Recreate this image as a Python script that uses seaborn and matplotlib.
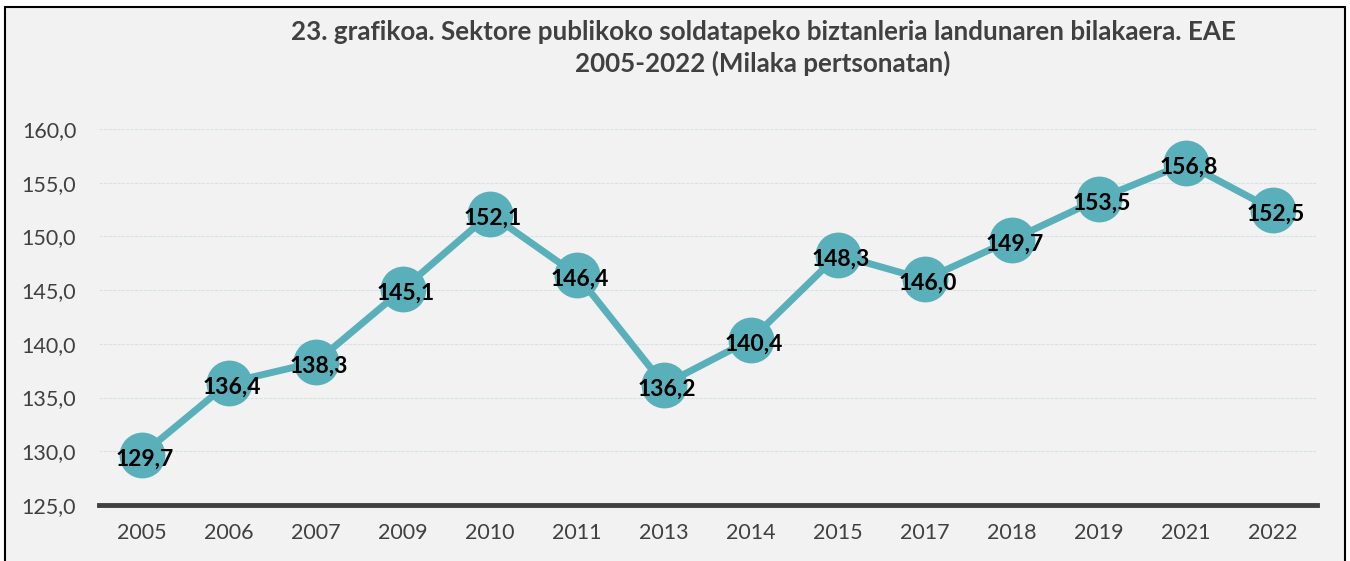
import matplotlib
matplotlib.use("Agg")
import matplotlib.pyplot as plt
import seaborn as sns
import pandas as pd
from matplotlib.patches import Rectangle

# ── Data ───────────────────────────────────────────────────────────────────────
years = ["2005", "2006", "2007", "2009", "2010", "2011", "2013",
         "2014", "2015", "2017", "2018", "2019", "2021", "2022"]
values = [129.7, 136.4, 138.3, 145.1, 152.1, 146.4, 136.2,
          140.4, 148.3, 146.0, 149.7, 153.5, 156.8, 152.5]
y_ticks = [125, 130, 135, 140, 145, 150, 155, 160]

title = ("23. grafikoa. Sektore publikoko soldatapeko biztanleria landunaren bilakaera. EAE\n"
         "2005-2022 (Milaka pertsonatan)")

df = pd.DataFrame({"year": years, "value": values})
df["pos"] = range(len(df))

# ── Style ──────────────────────────────────────────────────────────────────────
bg = "#F2F2F2"
teal = "#5AB0BA"
dark = "#404040"

sns.set_style("white")
plt.rcParams["font.family"] = ["Lato", "DejaVu Sans"]

fig = plt.figure(figsize=(13.5, 5.61), dpi=100, facecolor="white")
fig.patches.append(Rectangle((5 / 1350, -0.05), 1340 / 1350, 1 - 7 / 561 + 0.05,
                             transform=fig.transFigure, facecolor=bg,
                             edgecolor="black", linewidth=1.5, zorder=-10))
ax = fig.add_axes([98.5 / 1350, 1 - 505 / 561, 1218 / 1350, 376 / 561])
ax.set_facecolor(bg)

sns.lineplot(data=df, x="pos", y="value", ax=ax, color=teal, linewidth=5,
             marker="o", markersize=33, markeredgewidth=0, zorder=3)

for p, v in zip(df["pos"], df["value"]):
    ax.text(p + 0.03, v - 0.4, f"{v:.1f}".replace(".", ","), ha="center", va="center",
            fontsize=16.5, fontweight="bold", color="black", zorder=4)

ax.set_xlim(-0.5, len(years) - 0.5)
ax.set_ylim(125, 160)
ax.set_xticks(df["pos"])
ax.set_xticklabels(years)
ax.set_yticks(y_ticks)
ax.set_yticklabels([f"{t:.1f}".replace(".", ",") for t in y_ticks])
ax.tick_params(axis="both", length=0, labelsize=15.5, colors=dark)
ax.tick_params(axis="x", pad=13)
ax.tick_params(axis="y", pad=16)
ax.set_xlabel("")
ax.set_ylabel("")

ax.grid(axis="y", color="#D9E2E2", linewidth=0.8, linestyle=(0, (3, 1)))
ax.set_axisbelow(True)
for s in ["top", "right", "left"]:
    ax.spines[s].set_visible(False)
ax.spines["bottom"].set_color(dark)
ax.spines["bottom"].set_linewidth(3.5)
ax.spines["bottom"].set_zorder(5)

fig.text(763 / 1350, 1 - 48 / 561, title, ha="center", va="center", fontsize=18.7,
         fontweight="bold", color=dark, linespacing=1.3)

fig.savefig("out.png", dpi=100, facecolor="white")
